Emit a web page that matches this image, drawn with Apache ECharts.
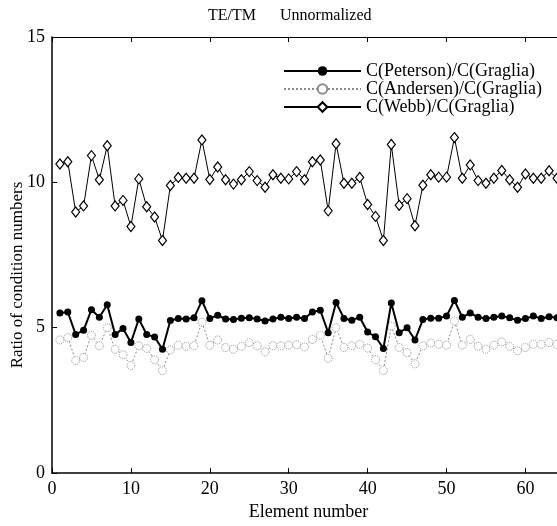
<!DOCTYPE html>
<html>
<head>
<meta charset="utf-8">
<script src="https://cdn.jsdelivr.net/npm/echarts@6/dist/echarts.min.js"></script>
<style>
  html, body { margin: 0; padding: 0; background: #fff; }
  #chart { width: 557px; height: 526px; }
</style>
</head>
<body>
<div id="chart"></div>
<script>
// ratios, element 1..64
const peterson = [
  5.51, 5.54, 4.77, 4.91, 5.62, 5.36, 5.79, 4.77, 4.97, 4.49,
  5.30, 4.77, 4.68, 4.26, 5.25, 5.32, 5.30, 5.34, 5.93, 5.32,
  5.43, 5.30, 5.28, 5.33, 5.34, 5.30, 5.23, 5.30, 5.36, 5.32,
  5.36, 5.32, 5.54, 5.60, 4.83, 5.87, 5.32, 5.26, 5.36, 4.85,
  4.69, 4.29, 5.85, 4.83, 5.00, 4.58, 5.28, 5.33, 5.33, 5.40,
  5.94, 5.36, 5.51, 5.36, 5.32, 5.36, 5.40, 5.34, 5.26, 5.32,
  5.40, 5.32, 5.38, 5.34
]
const andersen = [
  4.58, 4.66, 3.87, 3.98, 4.74, 4.38, 5.00, 4.26, 4.07, 3.70,
  4.38, 4.29, 3.90, 3.53, 4.24, 4.40, 4.36, 4.38, 5.19, 4.40,
  4.58, 4.32, 4.26, 4.36, 4.49, 4.38, 4.17, 4.38, 4.38, 4.40,
  4.42, 4.34, 4.60, 4.74, 3.95, 5.00, 4.32, 4.38, 4.43, 4.30,
  3.90, 3.53, 5.06, 4.32, 4.15, 3.76, 4.38, 4.47, 4.43, 4.40,
  5.23, 4.40, 4.60, 4.36, 4.26, 4.40, 4.51, 4.36, 4.21, 4.32,
  4.43, 4.43, 4.49, 4.43
]
const webb = [
  10.63, 10.71, 8.98, 9.19, 10.92, 10.09, 11.26, 9.19, 9.38, 8.48,
  10.12, 9.16, 8.81, 8.00, 9.89, 10.17, 10.14, 10.14, 11.46, 10.10,
  10.53, 10.09, 9.94, 10.09, 10.37, 10.06, 9.83, 10.26, 10.14, 10.12,
  10.37, 10.09, 10.71, 10.77, 9.02, 11.33, 9.97, 9.97, 10.17, 9.24,
  8.83, 8.00, 11.30, 9.21, 9.44, 8.51, 9.90, 10.26, 10.18, 10.18,
  11.54, 10.14, 10.60, 10.06, 9.97, 10.14, 10.41, 10.09, 9.83, 10.29,
  10.14, 10.14, 10.40, 10.14
]
const seriesNames = ['C(Peterson)/C(Graglia)', 'C(Andersen)/C(Graglia)', 'C(Webb)/C(Graglia)']
const xTicks = [0, 10, 20, 30, 40, 50, 60]
const yTicks = [0, 5, 10, 15]

const pairs = arr => arr.map((v, i) => [i + 1, v])
const serif = 'Liberation Serif'

const myChart = echarts.init(document.getElementById('chart'))

myChart.setOption({
  animation: false,
  title: {
    text: 'TE/TM      Unnormalized',
    left: 203,
    top: 3,
    textStyle: { fontFamily: serif, fontSize: 16, fontWeight: 'normal', color: '#000' }
  },
  legend: {
    orient: 'vertical',
    left: 283,
    top: 62,
    padding: 0,
    itemWidth: 77,
    itemHeight: 12,
    itemGap: 0,
    textStyle: { fontFamily: serif, fontSize: 18, lineHeight: 16.5, color: '#000' },
    data: seriesNames
  },
  graphic: [{
    type: 'text',
    x: 18,
    y: 275,
    rotation: Math.PI / 2,
    style: {
      text: 'Ratio of condition numbers',
      font: '17px "Liberation Serif"',
      fill: '#000',
      align: 'center',
      verticalAlign: 'middle'
    }
  }],
  grid: { left: 52, right: 0, top: 37, bottom: 47, containLabel: false },
  xAxis: [{
    type: 'value',
    min: 0, max: 64, interval: 10,
    name: 'Element number',
    nameLocation: 'middle',
    nameGap: 27,
    nameTextStyle: { fontFamily: serif, fontSize: 18, color: '#000', padding: [0, 0, 0, 8] },
    axisLine: { lineStyle: { color: '#000', width: 1.5 } },
    axisTick: { inside: true, length: 5, lineStyle: { color: '#000' } },
    axisLabel: {
      fontFamily: serif, fontSize: 18, color: '#000', margin: 7,
      customValues: xTicks
    },
    splitLine: { show: false }
  }, {
    type: 'value',
    position: 'top',
    min: 0, max: 64, interval: 10,
    axisLine: { show: true, lineStyle: { color: '#000', width: 1 } },
    axisTick: { inside: true, length: 5, lineStyle: { color: '#000' } },
    axisLabel: { show: false },
    splitLine: { show: false }
  }],
  yAxis: {
    type: 'value',
    min: 0, max: 15, interval: 5,
    axisLine: { show: true, lineStyle: { color: '#000', width: 1.5 } },
    axisTick: { show: true, inside: true, length: 5, lineStyle: { color: '#000' } },
    axisLabel: { fontFamily: serif, fontSize: 18, color: '#000', margin: 7, customValues: yTicks },
    splitLine: { show: false }
  },
  series: [
    {
      name: seriesNames[0],
      type: 'line',
      data: pairs(peterson),
      symbol: 'circle',
      symbolSize: 7,
      itemStyle: { color: '#000' },
      lineStyle: { color: '#000', width: 2 },
      z: 4
    },
    {
      name: seriesNames[1],
      type: 'line',
      data: pairs(andersen),
      symbol: 'circle',
      symbolSize: 8,
      itemStyle: { color: '#fff', borderColor: '#8c8c8c', borderWidth: 1, borderType: 'dotted' },
      lineStyle: { color: '#8c8c8c', width: 1, type: [2, 2] },
      z: 3
    },
    {
      name: seriesNames[2],
      type: 'line',
      data: pairs(webb),
      symbol: 'diamond',
      symbolSize: [8, 10],
      itemStyle: { color: '#fff', borderColor: '#000', borderWidth: 1.2 },
      lineStyle: { color: '#000', width: 1 },
      z: 4
    }
  ]
})
</script>
</body>
</html>
